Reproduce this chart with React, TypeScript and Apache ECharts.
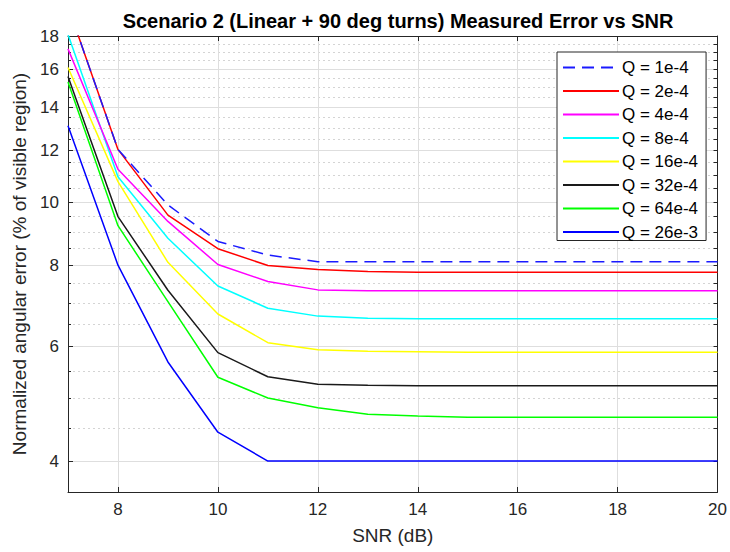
import React, { useEffect, useRef } from "react";
import * as echarts from "echarts";

const snr = [7, 8, 9, 10, 11, 12, 13, 14, 15, 16, 17, 18, 19, 20];

const seriesNames = [
  "Q = 1e-4",
  "Q = 2e-4",
  "Q = 4e-4",
  "Q = 8e-4",
  "Q = 16e-4",
  "Q = 32e-4",
  "Q = 64e-4",
  "Q = 26e-3",
];

const q1e4 = [20, 12.05, 9.9, 8.7, 8.29, 8.1, 8.1, 8.1, 8.1, 8.1, 8.1, 8.1, 8.1, 8.1];
const q2e4 = [20, 12.05, 9.55, 8.48, 7.99, 7.88, 7.82, 7.8, 7.8, 7.8, 7.8, 7.8, 7.8, 7.8];
const q4e4 = [17.2, 11.23, 9.34, 8.02, 7.55, 7.33, 7.31, 7.31, 7.31, 7.31, 7.31, 7.31, 7.31, 7.31];
const q8e4 = [18.1, 10.94, 8.8, 7.43, 6.87, 6.68, 6.63, 6.62, 6.62, 6.62, 6.62, 6.62, 6.62, 6.62];
const q16e4 = [16.1, 10.75, 8.08, 6.73, 6.08, 5.93, 5.9, 5.89, 5.88, 5.88, 5.88, 5.88, 5.88, 5.88];
const q32e4 = [15.6, 9.5, 7.32, 5.87, 5.39, 5.25, 5.23, 5.22, 5.22, 5.22, 5.22, 5.22, 5.22, 5.22];
const q64e4 = [15.3, 9.2, 7.03, 5.38, 5.0, 4.83, 4.72, 4.69, 4.67, 4.67, 4.67, 4.67, 4.67, 4.67];
const q26e3 = [13.1, 8.0, 5.68, 4.43, 4.0, 4.0, 4.0, 4.0, 4.0, 4.0, 4.0, 4.0, 4.0, 4.0];

const seriesValues = [q1e4, q2e4, q4e4, q8e4, q16e4, q32e4, q64e4, q26e3];
const seriesColors = ["#1a1aff", "#ff0000", "#ff00ff", "#00ffff", "#ffff00", "#1a1a1a", "#00ff00", "#0000ff"];
const seriesDash: (string | number[])[] = [[12, 7], "solid", "solid", "solid", "solid", "solid", "solid", "solid"];

const xTicks = [8, 10, 12, 14, 16, 18, 20];
const yMajorTicks = [4, 6, 8, 10, 12, 14, 16, 18];
const yMinorTicks = [4.5, 5, 5.5, 6.5, 7, 7.5, 8.5, 9, 9.5, 10.5, 11, 11.5, 12.5, 13, 13.5, 14.5, 15, 15.5, 16.5, 17, 17.5];
const yAllTicks = [...yMajorTicks, ...yMinorTicks];

const X_MIN = 7;
const X_MAX = 20;
const Y_MIN = 3.585;
const Y_MAX = 18;

const FONT = "Liberation Sans, Arial, Helvetica, sans-serif";
const AXIS_COLOR = "#262626";

export default function App() {
  const ref = useRef<HTMLDivElement>(null);

  useEffect(() => {
    if (!ref.current) return;
    const chart = echarts.init(ref.current, undefined, { renderer: "svg" });

    const series = seriesNames.map((name, i) => ({
      name,
      type: "line",
      xAxisIndex: 0,
      yAxisIndex: 0,
      data: snr.map((x, j) => [x, seriesValues[i][j]]),
      symbol: "none",
      showSymbol: false,
      clip: true,
      z: 10 - i,
      lineStyle: {
        color: seriesColors[i],
        width: 1.5,
        type: seriesDash[i],
      },
      itemStyle: { color: seriesColors[i] },
    }));

    chart.setOption({
      animation: false,
      backgroundColor: "#ffffff",
      textStyle: { fontFamily: FONT },
      title: {
        text: "Scenario 2 (Linear + 90 deg turns) Measured Error vs SNR",
        left: 393,
        textAlign: "center",
        top: 6,
        textStyle: { fontFamily: FONT, fontSize: 20, fontWeight: "bold", color: "#000000" },
      },
      legend: {
        orient: "vertical",
        left: 557,
        top: 52,
        width: 146,
        itemWidth: 56,
        itemHeight: 14,
        itemGap: 6.5,
        padding: [7, 8, 0, 5],
        backgroundColor: "#ffffff",
        borderColor: AXIS_COLOR,
        borderWidth: 1,
        borderRadius: 0,
        itemStyle: { opacity: 0 },
        textStyle: { fontFamily: FONT, fontSize: 17, lineHeight: 14, color: "#000000", padding: [0, 0, 0, -2] },
        data: seriesNames,
      },
      grid: { left: 68, right: 12, top: 36, bottom: 60, containLabel: false },
      xAxis: [
        {
          type: "value",
          min: X_MIN,
          max: X_MAX,
          position: "bottom",
          name: "SNR (dB)",
          nameLocation: "middle",
          nameGap: 34,
          nameTextStyle: { fontFamily: FONT, fontSize: 19, color: AXIS_COLOR },
          axisLine: { show: true, lineStyle: { color: AXIS_COLOR, width: 1 } },
          axisTick: { show: true, inside: true, length: 5, customValues: xTicks, lineStyle: { color: AXIS_COLOR } },
          axisLabel: { customValues: xTicks, fontFamily: FONT, fontSize: 17, color: AXIS_COLOR, margin: 9 },
          splitLine: { show: true, lineStyle: { color: "#dedede", width: 1 } },
        },
        {
          type: "value",
          min: X_MIN,
          max: X_MAX,
          position: "top",
          axisLine: { show: true, lineStyle: { color: AXIS_COLOR, width: 1 } },
          axisTick: { show: true, inside: true, length: 5, customValues: xTicks, lineStyle: { color: AXIS_COLOR } },
          axisLabel: { show: false },
          splitLine: { show: false },
        },
      ],
      yAxis: [
        {
          type: "log",
          logBase: 10,
          min: Y_MIN,
          max: Y_MAX,
          position: "left",
          name: "Normalized angular error (% of visible region)",
          nameLocation: "middle",
          nameGap: 35,
          nameTextStyle: { fontFamily: FONT, fontSize: 19, color: AXIS_COLOR },
          axisLine: { show: true, lineStyle: { color: AXIS_COLOR, width: 1 } },
          axisTick: { show: true, inside: true, length: 5, customValues: yMajorTicks, lineStyle: { color: AXIS_COLOR } },
          axisLabel: { customValues: yMajorTicks, fontFamily: FONT, fontSize: 17, color: AXIS_COLOR, margin: 9 },
          splitLine: { show: true, lineStyle: { color: "#dedede", width: 1 } },
          minorTick: { show: false },
          minorSplitLine: { show: false },
        },
        {
          type: "log",
          logBase: 10,
          min: Y_MIN,
          max: Y_MAX,
          position: "left",
          axisLine: { show: false },
          axisTick: { show: true, inside: true, length: 3, customValues: yMinorTicks, lineStyle: { color: AXIS_COLOR } },
          axisLabel: { show: false },
          splitLine: { show: true, lineStyle: { color: "#d4d4d4", width: 1, type: [2, 3] } },
        },
        {
          type: "log",
          logBase: 10,
          min: Y_MIN,
          max: Y_MAX,
          position: "right",
          axisLine: { show: true, lineStyle: { color: AXIS_COLOR, width: 1 } },
          axisTick: { show: true, inside: true, length: 4, customValues: yAllTicks, lineStyle: { color: AXIS_COLOR } },
          axisLabel: { show: false },
          splitLine: { show: false },
        },
      ],
      series,
    });

    return () => chart.dispose();
  }, []);

  return <div ref={ref} style={{ width: 730, height: 552, position: "absolute", left: 0, top: 0 }} />;
}
